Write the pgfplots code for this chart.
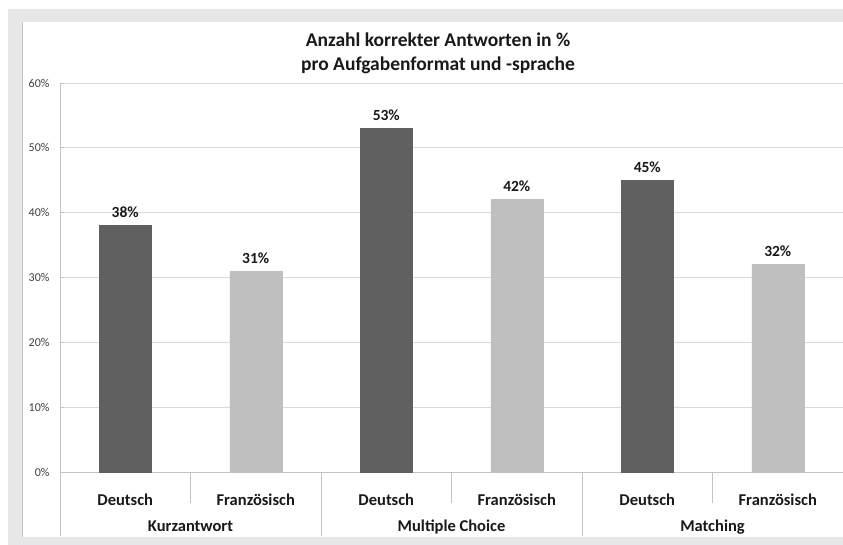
\documentclass[border=0pt]{standalone}
\usepackage{pgfplots}
\pgfplotsset{compat=1.18}
\usepackage{fontspec}
\setmainfont{Carlito}
\definecolor{framegray}{HTML}{E6E7E8}
\definecolor{gridgray}{HTML}{D9D9D9}
\definecolor{axisgray}{HTML}{C4C4C4}
\definecolor{darkbar}{HTML}{606060}
\definecolor{lightbar}{HTML}{BFBFBF}
\definecolor{ticktext}{HTML}{404040}
\begin{document}
\begin{tikzpicture}[x=1bp,y=1bp]
\fill[framegray] (8,0) rectangle (843,536);
\fill[white] (22,8) rectangle (843,523);
\draw[axisgray, line width=1bp] (22.5,8) -- (22.5,523);
\node[font=\fontsize{19.5bp}{24bp}\selectfont\bfseries, anchor=base, text=black!90] at (438,498) {Anzahl korrekter Antworten in \%};
\node[font=\fontsize{19.5bp}{24bp}\selectfont\bfseries, anchor=base, text=black!90] at (438,474) {pro Aufgabenformat und -sprache};
\begin{axis}[
  at={(60bp,73bp)}, anchor=south west,
  scale only axis, width=783bp, height=389bp,
  xmin=0, xmax=6, ymin=0, ymax=60,
  clip=false,
  axis lines*=left,
  axis line style={axisgray, line width=0.8pt},
  ytick={0,10,20,30,40,50,60},
  yticklabel={\pgfmathprintnumber{\tick}\%},
  yticklabel style={font=\fontsize{12bp}{14bp}\selectfont, text=ticktext, anchor=east, xshift=-7bp},
  /pgf/number format/assume math mode=true,
  ymajorgrids, grid style={gridgray, line width=0.8pt},
  major tick length=4bp,
  ytick style={axisgray, line width=0.8pt},
  xtick={0.5,1.5,2.5,3.5,4.5,5.5},
  xticklabels={Deutsch,Französisch,Deutsch,Französisch,Deutsch,Französisch},
  xticklabel style={font=\fontsize{16.5bp}{19bp}\selectfont\bfseries, text=black!90, anchor=base, yshift=-30bp, inner sep=0pt},
  xtick style={draw=none},
  ybar, bar width=52bp,
  nodes near coords={\pgfmathprintnumber{\pgfplotspointmeta}\%},
  nodes near coords style={font=\fontsize{15.5bp}{18bp}\selectfont\bfseries, text=black!90, anchor=base, yshift=8bp, inner sep=0pt},
]
\addplot[bar shift=0pt, fill=darkbar, draw=darkbar] coordinates {(0.5,38) (2.5,53) (4.5,45)};
\addplot[bar shift=0pt, fill=lightbar, draw=lightbar] coordinates {(1.5,31) (3.5,42) (5.5,32)};
\draw[axisgray, line width=0.8pt] (axis cs:1,0) -- ++(0,-31bp);
\draw[axisgray, line width=0.8pt] (axis cs:3,0) -- ++(0,-31bp);
\draw[axisgray, line width=0.8pt] (axis cs:5,0) -- ++(0,-31bp);
\draw[axisgray, line width=0.8pt] (axis cs:0,0) -- ++(0,-64bp);
\draw[axisgray, line width=0.8pt] (axis cs:2,0) -- ++(0,-64bp);
\draw[axisgray, line width=0.8pt] (axis cs:4,0) -- ++(0,-64bp);
\node[font=\fontsize{16.5bp}{19bp}\selectfont\bfseries, text=black!90, anchor=base, inner sep=0pt] at (axis cs:1,0) [yshift=-60bp] {Kurzantwort};
\node[font=\fontsize{16.5bp}{19bp}\selectfont\bfseries, text=black!90, anchor=base, inner sep=0pt] at (axis cs:3,0) [yshift=-60bp] {Multiple Choice};
\node[font=\fontsize{16.5bp}{19bp}\selectfont\bfseries, text=black!90, anchor=base, inner sep=0pt] at (axis cs:5,0) [yshift=-60bp] {Matching};
\end{axis}
\pgfresetboundingbox
\useasboundingbox (0,0) rectangle (843,545);
\end{tikzpicture}
\end{document}
